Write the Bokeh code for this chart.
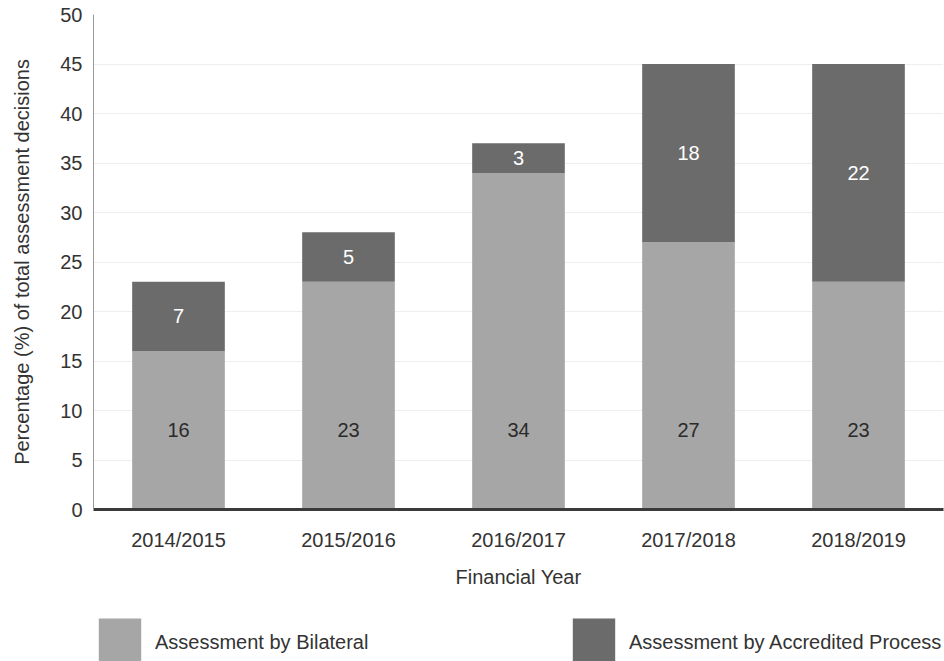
from bokeh.plotting import figure
from bokeh.layouts import column
from bokeh.models import ColumnDataSource, FactorRange, Legend, LegendItem, Range1d
from bokeh.core.properties import value
from bokeh.embed import file_html
from bokeh.resources import INLINE

years = ["2014/2015", "2015/2016", "2016/2017", "2017/2018", "2018/2019"]
bilateral = [16, 23, 34, 27, 23]
accredited = [7, 5, 3, 18, 22]
series_names = ["Assessment by Bilateral", "Assessment by Accredited Process"]
y_ticks = [0, 5, 10, 15, 20, 25, 30, 35, 40, 45, 50]

FONT = "Liberation Sans"
LIGHT = "#a6a6a6"
DARK = "#6b6b6b"
TXT = "#333333"

src = ColumnDataSource(dict(years=years, bilateral=bilateral, accredited=accredited))

p = figure(x_range=FactorRange(*years, range_padding=0), y_range=Range1d(0, 50),
           width=944, height=590, output_backend="svg", toolbar_location=None,
           min_border_left=93, min_border_right=1, min_border_top=14, min_border_bottom=0)
p.outline_line_color = None
p.background_fill_color = "white"
p.border_fill_color = "white"

rs = p.vbar_stack(["bilateral", "accredited"], x="years", width=0.545, source=src,
                  color=[LIGHT, DARK], line_color=None)

# value labels
bil_lab_y = [8] * len(years)
acc_lab_y = [b + a / 2 for b, a in zip(bilateral, accredited)]
p.text(x=years, y=bil_lab_y, text=[str(v) for v in bilateral], text_align="center",
       text_baseline="middle", text_color="#2a2a2a", text_font=value(FONT),
       text_font_size="20px")
p.text(x=years, y=acc_lab_y, text=[str(v) for v in accredited], text_align="center",
       text_baseline="middle", text_color="white", text_font=value(FONT),
       text_font_size="20px")

# axes
p.yaxis.ticker = y_ticks
p.yaxis.axis_label = "Percentage (%) of total assessment decisions"
p.yaxis.axis_label_text_font = FONT
p.yaxis.axis_label_text_font_style = "normal"
p.yaxis.axis_label_text_font_size = "20px"
p.yaxis.axis_label_text_color = TXT
p.yaxis.axis_label_standoff = 24
p.yaxis.major_label_text_font = FONT
p.yaxis.major_label_text_font_size = "20px"
p.yaxis.major_label_text_color = TXT
p.yaxis.major_label_standoff = 11
p.yaxis.major_tick_out = 0
p.yaxis.major_tick_in = 0
p.yaxis.minor_tick_out = 0
p.yaxis.minor_tick_in = 0
p.yaxis.axis_line_color = "#9a9a9a"
p.yaxis.axis_line_width = 1

p.xaxis.axis_label = "Financial Year"
p.xaxis.axis_label_text_font = FONT
p.xaxis.axis_label_text_font_style = "normal"
p.xaxis.axis_label_text_font_size = "20px"
p.xaxis.axis_label_text_color = TXT
p.xaxis.axis_label_standoff = 12
p.xaxis.major_label_text_font = FONT
p.xaxis.major_label_text_font_size = "20px"
p.xaxis.major_label_text_color = TXT
p.xaxis.major_label_standoff = 19
p.xaxis.major_tick_out = 0
p.xaxis.major_tick_in = 0
p.xaxis.axis_line_color = "#3a3a3a"
p.xaxis.axis_line_width = 3

p.xgrid.grid_line_color = None
p.ygrid.grid_line_color = "#eeeeee"
p.ygrid.grid_line_width = 1

# legend strip below the chart (its frame is aligned with the chart's frame)
q = figure(width=944, height=71, output_backend="svg", toolbar_location=None,
           x_range=Range1d(0, 1), y_range=Range1d(0, 1),
           x_axis_type=None, y_axis_type=None,
           min_border_left=0, min_border_right=0, min_border_top=0, min_border_bottom=0)
q.grid.visible = False
q.outline_line_color = None
q.border_fill_color = "white"
q.background_fill_color = "white"
leg_r1 = q.vbar(x=[0.5], top=[0], width=0.0, color=LIGHT, line_color=None)
leg_r2 = q.vbar(x=[0.5], top=[0], width=0.0, color=DARK, line_color=None)

legend = Legend(items=[LegendItem(label=series_names[0], renderers=[leg_r1]),
                       LegendItem(label=series_names[1], renderers=[leg_r2])],
                location=(0, -11), orientation="horizontal",
                glyph_width=53, glyph_height=60, label_standoff=9,
                label_width=300, spacing=112, padding=0, margin=0,
                label_text_font=FONT, label_text_font_size="20px", label_text_color=TXT,
                border_line_color=None, background_fill_alpha=0)
q.add_layout(legend, "center")

layout = column(p, q, spacing=0)
open("out.html", "w").write(file_html(layout, INLINE))
